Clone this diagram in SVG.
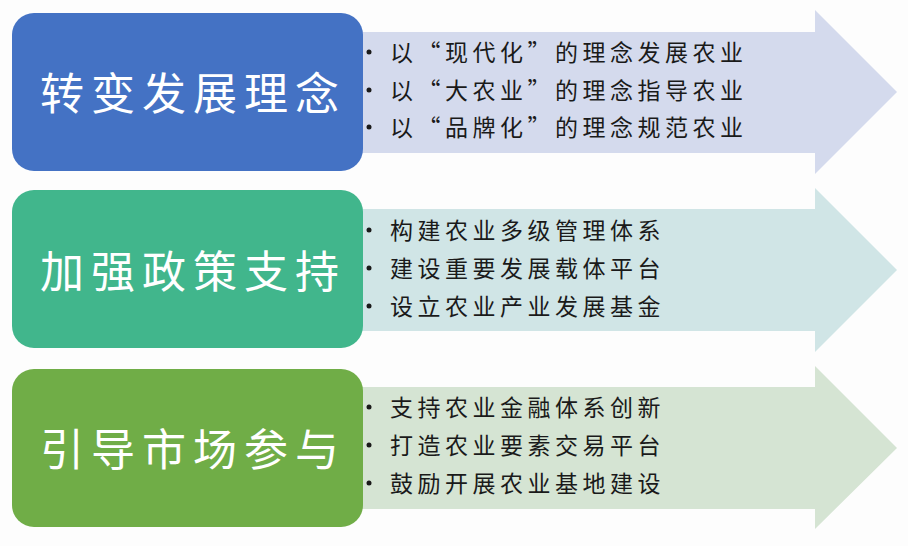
<svg xmlns="http://www.w3.org/2000/svg" width="908" height="546" viewBox="0 0 908 546">
  <style>
    .title { font-family: "Noto Sans CJK SC", "Noto Sans", sans-serif; font-size: 44px; fill: #ffffff; letter-spacing: 7px; }
    .item { font-family: "Noto Sans CJK SC", "Noto Sans", sans-serif; font-size: 23px; fill: #1a1a1a; letter-spacing: 4.5px; }
    .dot { fill: #1a1a1a; }
  </style>
  <rect x="0" y="0" width="908" height="546" fill="#fdfdfd"/>
  <g id="connectors">
    <path d="M340,32 H815 V10 L897,92 L815,174 V153 H340 Z" fill="#d4daed"/>
    <path d="M340,209 H815 V188 L897,270 L815,352 V331 H340 Z" fill="#d0e5e6"/>
    <path d="M340,387 H815 V366 L897,448 L815,529 V509 H340 Z" fill="#d5e4d3"/>
  </g>
  <g id="node1">
    <rect x="12" y="13" width="351" height="158" rx="22" fill="#4472c4"/>
    <text class="title" x="40" y="110">转变发展理念</text>
  </g>
  <g id="list1">
    <circle class="dot" cx="369" cy="52" r="2.5"/>
    <circle class="dot" cx="369" cy="90" r="2.5"/>
    <circle class="dot" cx="369" cy="127" r="2.5"/>
    <text class="item" x="390" y="61">以“现代化”的理念发展农业</text>
    <text class="item" x="390" y="99">以“大农业”的理念指导农业</text>
    <text class="item" x="390" y="136">以“品牌化”的理念规范农业</text>
  </g>
  <g id="node2">
    <rect x="12" y="190" width="351" height="158" rx="22" fill="#41b68c"/>
    <text class="title" x="40" y="288">加强政策支持</text>
  </g>
  <g id="list2">
    <circle class="dot" cx="369" cy="230" r="2.5"/>
    <circle class="dot" cx="369" cy="268" r="2.5"/>
    <circle class="dot" cx="369" cy="306" r="2.5"/>
    <text class="item" x="390" y="239">构建农业多级管理体系</text>
    <text class="item" x="390" y="277">建设重要发展载体平台</text>
    <text class="item" x="390" y="315">设立农业产业发展基金</text>
  </g>
  <g id="node3">
    <rect x="12" y="369" width="351" height="158" rx="22" fill="#70ad47"/>
    <text class="title" x="40" y="466">引导市场参与</text>
  </g>
  <g id="list3">
    <circle class="dot" cx="369" cy="407" r="2.5"/>
    <circle class="dot" cx="369" cy="445" r="2.5"/>
    <circle class="dot" cx="369" cy="483" r="2.5"/>
    <text class="item" x="390" y="416">支持农业金融体系创新</text>
    <text class="item" x="390" y="454">打造农业要素交易平台</text>
    <text class="item" x="390" y="492">鼓励开展农业基地建设</text>
  </g>
</svg>
